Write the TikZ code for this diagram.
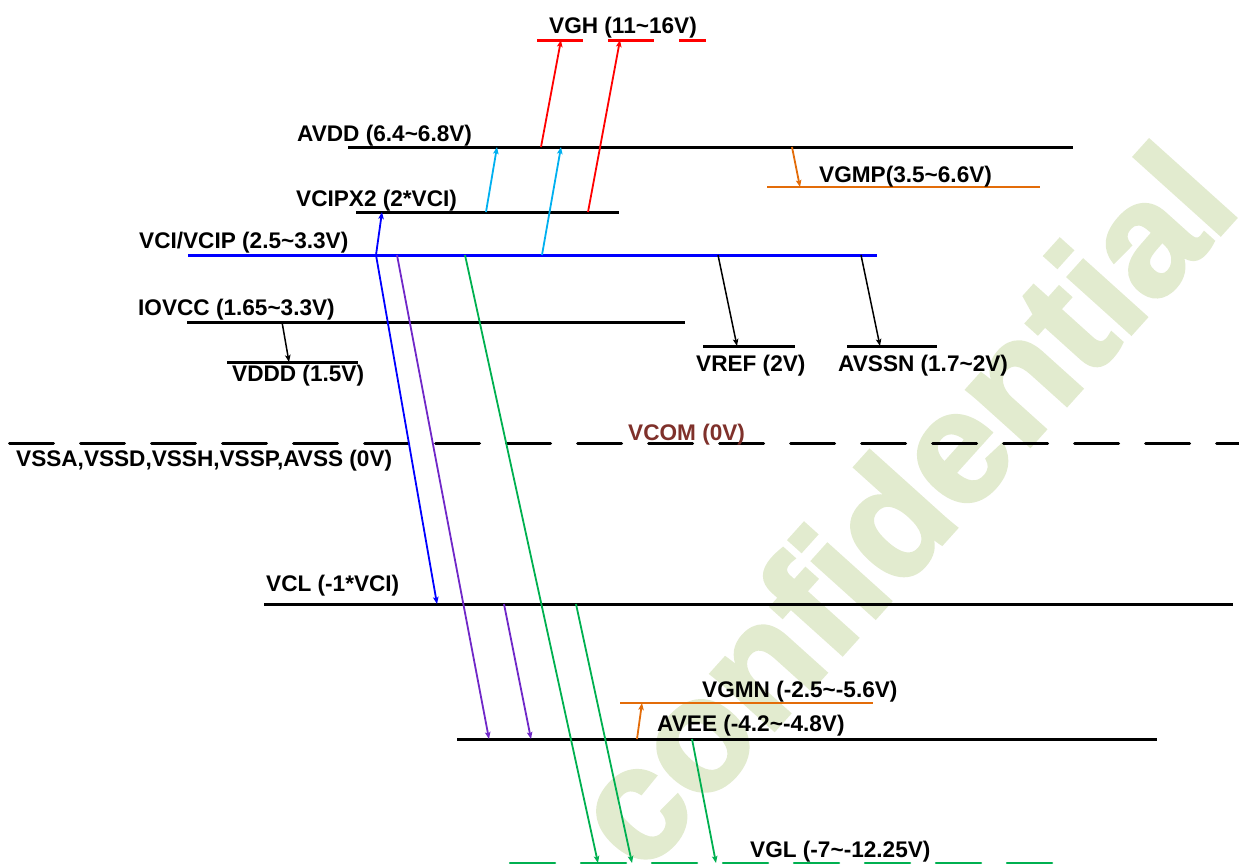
\documentclass[tikz,border=0pt]{standalone}
\usepackage{fontspec}
\setmainfont{Liberation Sans}
\newfontfamily\wmfont[BoldFeatures={FakeBold=2.2}]{Liberation Sans}
\usetikzlibrary{arrows.meta}
\definecolor{cred}{HTML}{FF0000}
\definecolor{ccyan}{HTML}{00B0F0}
\definecolor{cblue}{HTML}{0000FF}
\definecolor{cpurple}{HTML}{7028C8}
\definecolor{cgreen}{HTML}{00B050}
\definecolor{corange}{HTML}{E36C09}
\definecolor{cbrown}{HTML}{7F312B}
\definecolor{cwater}{HTML}{E2EBCF}
\begin{document}
\begin{tikzpicture}[x=1pt,y=-1pt,
  lvl/.style={line width=3pt},
  conn/.style={line width=1.8pt,-{Stealth[length=7pt,width=5.5pt,inset=1.5pt]}},
  lbl/.style={anchor=base west,inner sep=0pt,font=\fontsize{22.6}{26}\selectfont\bfseries}]
\useasboundingbox (0,0) rectangle (1239,865);
% watermark
\node[cwater,rotate=48,inner sep=0pt,font=\wmfont\fontsize{160}{160}\selectfont\bfseries] (wm) at (900,505) {confidential};

% level coordinates
\coordinate (avddL) at (348,147); \coordinate (avddR) at (1073,147);
\coordinate (vgmpL) at (767,187); \coordinate (vgmpR) at (1040,187);
\coordinate (x2L) at (356,212); \coordinate (x2R) at (619,212);
\coordinate (vciL) at (188,255); \coordinate (vciR) at (877,255);
\coordinate (ioL) at (187,322); \coordinate (ioR) at (685,322);
\coordinate (vdL) at (227,362); \coordinate (vdR) at (358,362);
\coordinate (vrL) at (703,346); \coordinate (vrR) at (795,346);
\coordinate (asL) at (847,346); \coordinate (asR) at (937,346);
\coordinate (vcomL) at (9.5,443); \coordinate (vcomR) at (1239,443);
\coordinate (vclL) at (264,604); \coordinate (vclR) at (1233,604);
\coordinate (vgmnL) at (620,703); \coordinate (vgmnR) at (873,703);
\coordinate (aveeL) at (457,739); \coordinate (aveeR) at (1157,739);
\coordinate (vglL) at (510,863); \coordinate (vglR) at (1052,863);

% levels
\draw[lvl,cred] (537,40) coordinate (g1a) -- (583,40) coordinate (g1b);
\draw[lvl,cred] (608,40) coordinate (g2a) -- (654,40) coordinate (g2b);
\draw[lvl,cred] (679,40) coordinate (g3a) -- (706,40) coordinate (g3b);
\draw[lvl] (avddL) -- (avddR);
\draw[line width=2.5pt,corange] (vgmpL) -- (vgmpR);
\draw[lvl] (x2L) -- (x2R);
\draw[lvl,cblue] (vciL) -- (vciR);
\draw[lvl] (ioL) -- (ioR);
\draw[lvl] (vdL) -- (vdR);
\draw[lvl] (vrL) -- (vrR);
\draw[lvl] (asL) -- (asR);
\draw[lvl,line cap=round,dash pattern=on 44pt off 27pt] (vcomL) -- (vcomR);
\draw[lvl] (vclL) -- (vclR);
\draw[line width=2.5pt,corange] (vgmnL) -- (vgmnR);
\draw[lvl] (aveeL) -- (aveeR);
\draw[line width=2.5pt,cgreen,line cap=round,dash pattern=on 45pt off 26pt] (vglL) -- (vglR);

% arrow endpoints
\coordinate (a1) at (541,147); \coordinate (vgh1) at (561,40);
\coordinate (x2r) at (588,212); \coordinate (vgh2) at (620,40);
\coordinate (x2c) at (486,212); \coordinate (a2) at (497,147);
\coordinate (vc1) at (542,255); \coordinate (a3) at (561,147);
\coordinate (vc2) at (376,255); \coordinate (x2b) at (382,212);
\coordinate (vcl1) at (437,604);
\coordinate (vc4) at (397,255); \coordinate (avee1) at (489,739);
\coordinate (vcl2) at (504,604); \coordinate (avee2) at (531,739);
\coordinate (vc5) at (465,255); \coordinate (vgl1) at (598,863);
\coordinate (vcl3) at (576,604); \coordinate (vgl2) at (632,863);
\coordinate (avee3) at (692,739); \coordinate (vgl3) at (716,863);
\coordinate (vc6) at (718,255); \coordinate (vref) at (737,346);
\coordinate (vc7) at (861,255); \coordinate (avssn) at (880,346);
\coordinate (io1) at (282,322); \coordinate (vddd) at (289,362);
\coordinate (a4) at (792,147); \coordinate (vgmp) at (800,187);
\coordinate (avee4) at (637,739); \coordinate (vgmn) at (642,703);

% connectors
\draw[conn,cred] (a1) -- (vgh1);
\draw[conn,cred] (x2r) -- (vgh2);
\draw[conn,ccyan] (x2c) -- (a2);
\draw[conn,ccyan] (vc1) -- (a3);
\draw[conn,cblue] (vc2) -- (x2b);
\draw[conn,cblue] (vc2) -- (vcl1);
\draw[conn,cpurple] (vc4) -- (avee1);
\draw[conn,cpurple] (vcl2) -- (avee2);
\draw[conn,cgreen] (vc5) -- (vgl1);
\draw[conn,cgreen] (vcl3) -- (vgl2);
\draw[conn,cgreen] (avee3) -- (vgl3);
\draw[conn,line width=1.5pt] (vc6) -- (vref);
\draw[conn,line width=1.5pt] (vc7) -- (avssn);
\draw[conn,line width=1.5pt] (io1) -- (vddd);
\draw[conn,corange] (a4) -- (vgmp);
\draw[conn,corange] (avee4) -- (vgmn);

% labels
\node[lbl] (tvgh) at (549,33) {VGH (11\textasciitilde16V)};
\node[lbl] (tavdd) at (297,141.5) {AVDD (6.4\textasciitilde6.8V)};
\node[lbl] (tvgmp) at (819,182.5) {VGMP(3.5\textasciitilde6.6V)};
\node[lbl] (tx2) at (296,206.5) {VCIPX2 (2*VCI)};
\node[lbl] (tvci) at (139,248.5) {VCI/VCIP (2.5\textasciitilde3.3V)};
\node[lbl] (tio) at (138,315) {IOVCC (1.65\textasciitilde3.3V)};
\node[lbl] (tvddd) at (232,381.5) {VDDD (1.5V)};
\node[lbl] (tvref) at (696,371) {VREF (2V)};
\node[lbl] (tavssn) at (838,371) {AVSSN (1.7\textasciitilde2V)};
\node[lbl,cbrown] (tvcom) at (628,440) {VCOM (0V)};
\node[lbl] (tvss) at (16,466.5) {VSSA,VSSD,VSSH,VSSP,AVSS (0V)};
\node[lbl] (tvcl) at (266,591.5) {VCL (-1*VCI)};
\node[lbl] (tvgmn) at (702,697.5) {VGMN (-2.5\textasciitilde-5.6V)};
\node[lbl] (tavee) at (657,731.5) {AVEE (-4.2\textasciitilde-4.8V)};
\node[lbl] (tvgl) at (750,857) {VGL (-7\textasciitilde-12.25V)};
\end{tikzpicture}
\end{document}
